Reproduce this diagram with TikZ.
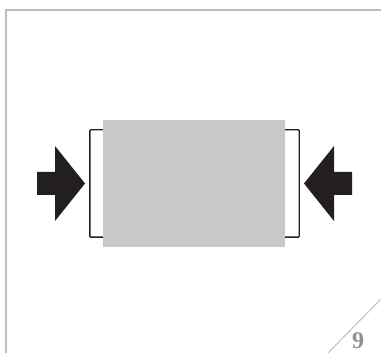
\documentclass[tikz,border=0pt]{standalone}
\usepackage{fontspec}
\usepackage{tikz}
\usetikzlibrary{arrows.meta, positioning, calc}
\newfontfamily\numfont{Liberation Serif}
\definecolor{pressgrey}{HTML}{BEBEBE}
\definecolor{pressblock}{HTML}{C8C8C8}
\definecolor{pressblack}{HTML}{231F20}

\begin{document}
\begin{tikzpicture}[x=1pt, y=-1pt,
    pressarrow/.style={fill=pressblack, draw=none},
    jaw/.style={draw=pressblack, line width=1.4pt, rounded corners=1pt}]
      \useasboundingbox (0,0) rectangle (381,353);
      % page frame and corner mark
      \draw[pressgrey, line width=2.2pt] (382,10) -- (6,10) -- (6,354);
      \draw[pressgrey, line width=1pt] (327,354) -- (381,299);
      \node[font=\numfont\fontsize{24}{24}\selectfont\bfseries, text=pressgrey!75!black, inner sep=0pt, anchor=base] (pagenum) at (358,348) {9};
      % block being squeezed
      \node[fill=pressblock, minimum width=182pt, minimum height=127pt, inner sep=0pt] (block) at (194,183.5) {};
      % jaws on both sides
      \draw[jaw] ($(block.north west)+(0,10)$) -| ($(block.south west)+(-13,-10)$) -- ($(block.south west)+(0,-10)$);
      \draw[jaw] ($(block.north east)+(0,10)$) -| ($(block.south east)+(14,-10)$) -- ($(block.south east)+(0,-10)$);
      % pushing arrows
      \foreach \s/\c in {1/37, -1/352}{
        \fill[pressarrow] (\c,172) -- ++({\s*18},0) -- ++(0,-26) -- ++({\s*30},37.5)
          -- ++({-\s*30},37.5) -- ++(0,-26) -- ++({-\s*18},0) -- cycle;
      }
    \end{tikzpicture}
\end{document}
